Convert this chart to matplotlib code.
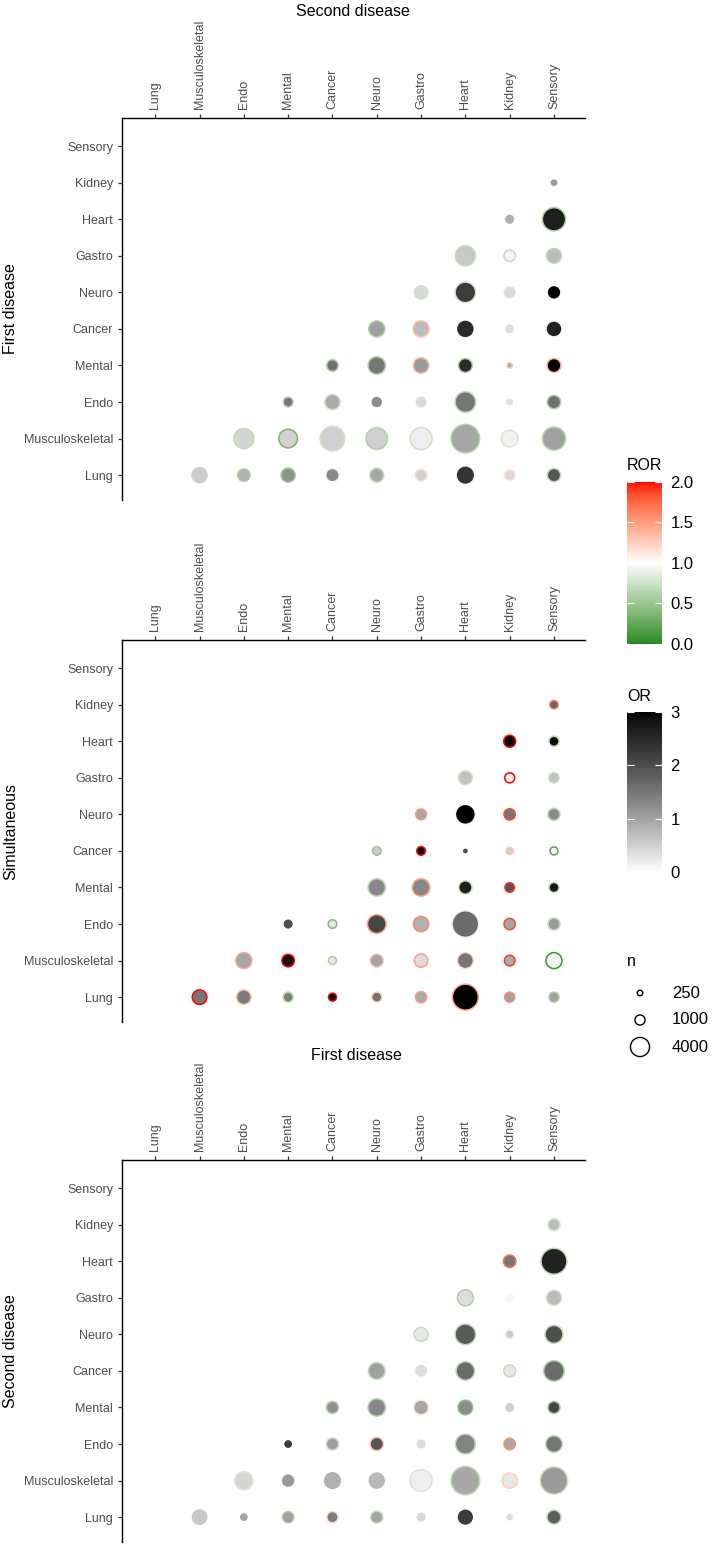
import numpy as np
import matplotlib
matplotlib.use("Agg")
import matplotlib.pyplot as plt
import matplotlib.colors as mcolors
from matplotlib.cm import ScalarMappable

plt.rcParams['font.family'] = ['Liberation Sans', 'DejaVu Sans']

diseases = ["Lung", "Musculoskeletal", "Endo", "Mental", "Cancer",
            "Neuro", "Gastro", "Heart", "Kidney", "Sensory"]
nan = np.nan

# each row i holds the cells for columns i+1 .. 9 (upper triangle)
first_n = [
    [2950, 1200, 1600, 1450, 1600, 1100, 3200, 820, 1450],
    [3770, 3200, 6050, 4400, 4680, 8400, 2480, 5300],
    [690, 2000, 1100, 1100, 4050, 450, 1450],
    [960, 2700, 2000, 1600, 100, 1600],
    [2250, 2250, 2950, 750, 2250],
    [1450, 4050, 820, 1600],
    [3770, 960, 1800],
    [820, 5300],
    [400],
]
first_or = [
    [0.55, 0.85, 1.2, 1.3, 0.95, 0.5, 2.35, 0.42, 1.9],
    [0.45, 0.48, 0.5, 0.5, 0.18, 0.95, 0.15, 1.02],
    [1.5, 0.91, 1.25, 0.41, 1.5, 0.33, 1.58],
    [1.58, 1.5, 1.1, 2.45, 0.9, 3.0],
    [1.02, 0.72, 2.47, 0.36, 2.6],
    [0.41, 2.23, 0.41, 3.0],
    [0.58, 0.1, 0.72],
    [0.85, 2.66],
    [1.1],
]
first_ror = [
    [1.0, 0.6, 0.5, 0.9, 0.7, 1.15, 1.05, 1.15, 0.7],
    [0.7, 0.35, 0.75, 0.6, 0.75, 0.65, 0.8, 0.65],
    [0.7, 0.75, 1.0, 1.05, 0.7, 1.0, 0.6],
    [0.55, 0.6, 1.4, 0.6, 1.3, 1.4],
    [0.6, 1.35, 1.0, 1.0, 0.95],
    [0.75, 0.8, 0.8, 1.0],
    [0.7, 0.7, 0.65],
    [1.0, 0.6],
    [1.0],
]

simul_n = [
    [1800, 1800, 690, 370, 690, 960, 6800, 690, 690],
    [2250, 1230, 370, 1450, 1450, 2250, 820, 2250],
    [820, 460, 3200, 2000, 7200, 960, 1100],
    [nan, 2700, 2700, 1450, 600, 690],
    [460, 460, 180, 290, 370],
    [820, 3770, 960, 1100],
    [1600, 690, 690],
    [1100, 690],
    [460],
]
simul_or = [
    [1.5, 1.42, 1.42, 3.0, 1.58, 0.91, 3.0, 1.0, 1.0],
    [0.97, 2.85, 0.25, 0.97, 0.36, 1.5, 0.91, 0.13],
    [1.97, 0.25, 2.1, 0.85, 1.65, 0.97, 1.1],
    [nan, 1.3, 1.3, 2.66, 1.91, 2.8],
    [0.55, 3.0, 1.97, 0.5, 0.05],
    [0.93, 3.0, 1.5, 1.27],
    [0.65, 0.16, 0.65],
    [3.0, 2.95],
    [1.7],
]
simul_ror = [
    [2.0, 1.3, 0.7, 2.0, 1.25, 1.5, 1.45, 1.6, 0.6],
    [1.45, 2.0, 0.6, 1.25, 1.5, 1.2, 1.9, 0.1],
    [1.0, 0.4, 1.5, 1.6, 0.9, 1.85, 0.7],
    [nan, 0.65, 1.5, 0.75, 1.95, 0.7],
    [0.5, 2.0, 1.0, 1.3, 0.2],
    [1.55, 1.05, 1.85, 0.65],
    [0.75, 2.0, 0.7],
    [2.0, 0.65],
    [1.6],
]

second_n = [
    [2700, 580, 960, 960, 1100, 820, 2480, 380, 1600],
    [2950, 1600, 3200, 2950, 4680, 8400, 2000, 7600],
    [580, 1230, 1450, 820, 3770, 960, 2480],
    [1100, 2700, 1800, 1800, 290, 1100],
    [2480, 1450, 3200, 1100, 4050],
    [1600, 4050, 460, 2950],
    [2250, 370, 2000],
    [1230, 6800],
    [1100],
]
second_or = [
    [0.58, 0.97, 1.02, 1.42, 0.97, 0.41, 2.23, 0.36, 1.8],
    [0.45, 1.1, 0.85, 0.75, 0.18, 0.93, 0.25, 1.08],
    [2.23, 1.02, 1.91, 0.36, 1.35, 0.93, 1.5],
    [1.21, 1.3, 0.97, 1.25, 0.5, 2.1],
    [1.02, 0.36, 1.65, 0.25, 1.65],
    [0.25, 1.85, 0.55, 2.0],
    [0.36, 0.07, 0.72],
    [1.5, 2.6],
    [0.72],
]
second_ror = [
    [1.0, 1.0, 0.6, 1.2, 0.7, 1.0, 1.0, 1.0, 0.65],
    [0.8, 1.0, 1.0, 1.0, 0.8, 0.7, 1.25, 0.75],
    [1.0, 0.8, 1.3, 1.0, 0.7, 1.6, 0.7],
    [0.6, 0.6, 1.15, 0.45, 0.7, 0.55],
    [0.7, 1.0, 0.7, 0.7, 0.65],
    [0.7, 0.7, 1.1, 0.7],
    [0.6, 1.05, 0.8],
    [1.7, 0.7],
    [0.8],
]

legend_n = [250, 1000, 4000]


# --- colour helpers: ggplot interpolates gradients in CIELAB ---
M = np.array([[0.4124, 0.3576, 0.1805],
              [0.2126, 0.7152, 0.0722],
              [0.0193, 0.1192, 0.9505]])
WHITE = np.array([0.95047, 1.0, 1.08883])


def to_lab(c):
    rgb = np.array(mcolors.to_rgb(c))
    lin = np.where(rgb <= 0.04045, rgb / 12.92, ((rgb + 0.055) / 1.055) ** 2.4)
    xyz = (M @ lin) / WHITE
    f = np.where(xyz > 0.008856, np.cbrt(xyz), 7.787 * xyz + 16 / 116)
    return np.array([116 * f[1] - 16, 500 * (f[0] - f[1]), 200 * (f[1] - f[2])])


def from_lab(lab):
    L, a, b = lab[:, 0], lab[:, 1], lab[:, 2]
    fy = (L + 16) / 116
    f = np.stack([fy + a / 500, fy, fy - b / 200], axis=1)
    xyz = np.where(f ** 3 > 0.008856, f ** 3, (f - 16 / 116) / 7.787) * WHITE
    lin = xyz @ np.linalg.inv(M).T
    lin = np.clip(lin, 0, 1)
    rgb = np.where(lin <= 0.0031308, 12.92 * lin, 1.055 * lin ** (1 / 2.4) - 0.055)
    return np.clip(rgb, 0, 1)


def lab_cmap(stops, n=256):
    labs = np.array([to_lab(c) for c in stops])
    t = np.linspace(0, 1, n) * (len(stops) - 1)
    i = np.minimum(t.astype(int), len(stops) - 2)
    w = (t - i)[:, None]
    return mcolors.ListedColormap(from_lab(labs[i] * (1 - w) + labs[i + 1] * w))


or_cmap = lab_cmap(["white", "black"])
ror_cmap = lab_cmap(["#228B22", "white", "#FF0000"])
or_norm = mcolors.Normalize(0, 3)
ror_norm = mcolors.Normalize(0, 2)

EDGE_LW = 1.1


def marker_size(n, shrink=0.0):
    # diameter in px grows with sqrt(n), like ggplot's area scale
    d_px = 2.5 + 0.285 * np.sqrt(np.asarray(n, dtype=float))
    return np.clip(d_px * 0.72 - shrink, 1, None) ** 2


W, H = 712, 1544
fig = plt.figure(figsize=(W / 100, H / 100), dpi=100)


def panel(top, bottom, n_rows, or_rows, ror_rows):
    ax = fig.add_axes([122 / W, 1 - bottom / H, 463 / W, (bottom - top) / H])
    xs, ys, ns, ors, rors = [], [], [], [], []
    for i, row in enumerate(n_rows):
        for k, n in enumerate(row):
            if np.isnan(n):
                continue
            xs.append(i + 1 + k)
            ys.append(i)
            ns.append(n)
            ors.append(or_rows[i][k])
            rors.append(ror_rows[i][k])
    ax.scatter(xs, ys, s=marker_size(ns), c=ors, cmap=or_cmap, norm=or_norm,
               edgecolors=ror_cmap(ror_norm(np.array(rors))),
               linewidths=EDGE_LW, zorder=3)
    ax.set_xlim(-0.75, 9.7)
    ax.set_ylim(-0.68, 9.77)
    ax.set_xticks(range(10))
    ax.set_xticklabels(diseases)
    ax.set_yticks(range(10))
    ax.set_yticklabels(diseases)
    ax.xaxis.tick_top()
    for s in ["right", "bottom"]:
        ax.spines[s].set_visible(False)
    for s in ["left", "top"]:
        ax.spines[s].set_linewidth(1.0)
    ax.tick_params(length=3, width=0.9, color="#333333", labelcolor="#4D4D4D",
                   labelsize=9, pad=3.5)
    plt.setp(ax.get_xticklabels(), rotation=90, ha="center", va="bottom")
    return ax


panel(118, 500, first_n, first_or, first_ror)
panel(640, 1022, simul_n, simul_or, simul_ror)
panel(1160, 1542, second_n, second_or, second_ror)

fig.text(353 / W, 1 - 11 / H, "Second disease", ha="center", va="center", fontsize=11.5)
fig.text(356 / W, 1 - 1056 / H, "First disease", ha="center", va="center", fontsize=11.5)
fig.text(11 / W, 1 - 309 / H, "First disease", rotation=90, ha="center", va="center", fontsize=11.5)
fig.text(11 / W, 1 - 831 / H, "Simultaneous", rotation=90, ha="center", va="center", fontsize=11.5)
fig.text(11 / W, 1 - 1351 / H, "Second disease", rotation=90, ha="center", va="center", fontsize=11.5)


def colorbar(top, bottom, cmap, norm, ticks, labels, title):
    cax = fig.add_axes([627 / W, 1 - bottom / H, 35 / W, (bottom - top) / H])
    cb = fig.colorbar(ScalarMappable(norm=norm, cmap=cmap), cax=cax, ticks=ticks)
    cb.outline.set_visible(False)
    cb.ax.set_yticklabels(labels)
    cb.ax.tick_params(direction="in", length=5, width=0.8, color="white",
                      labelcolor="black", labelsize=12, left=True, right=True, pad=6)
    fig.text(627 / W, 1 - (top - 16) / H, title, ha="left", va="center", fontsize=11.5)


colorbar(482, 644, ror_cmap, ror_norm, [0, 0.5, 1, 1.5, 2],
         ["0.0", "0.5", "1.0", "1.5", "2.0"], "ROR")
colorbar(712, 872, or_cmap, or_norm, [0, 1, 2, 3], ["0", "1", "2", "3"], "OR")

# size legend
fig.text(627 / W, 1 - 962 / H, "n", ha="left", va="center", fontsize=11.5)
lax = fig.add_axes([620 / W, 1 - 1062 / H, 90 / W, 84 / H])
lax.set_xlim(620, 710)
lax.set_ylim(1062, 978)
lax.axis("off")
leg_y = [993, 1020, 1047]
lax.scatter([640] * 3, leg_y, s=marker_size(legend_n, shrink=1.0), facecolors="white",
            edgecolors="black", linewidths=1.0)
for y, n in zip(leg_y, legend_n):
    lax.text(672, y, str(n), ha="left", va="center", fontsize=12)

fig.savefig("out.png", dpi=100)
